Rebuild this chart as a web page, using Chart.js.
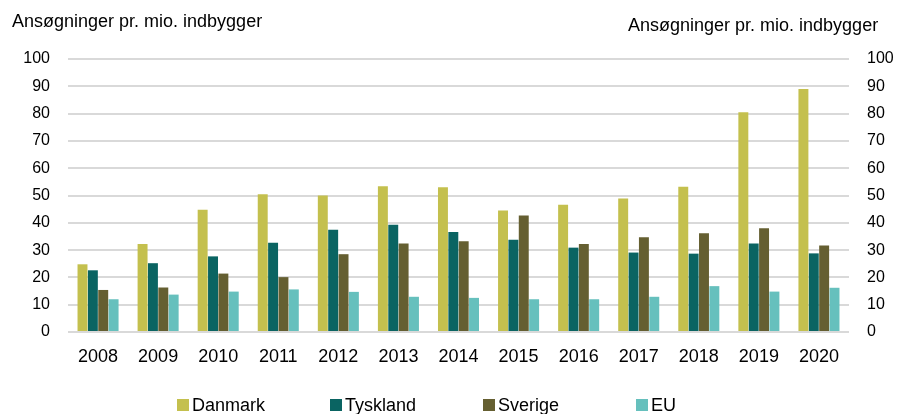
<!DOCTYPE html>
<html lang="da">
<head>
<meta charset="utf-8">
<script src="https://cdn.jsdelivr.net/npm/chart.js@4.4.1/dist/chart.umd.min.js"></script>
<style>
    html, body { margin: 0; padding: 0; background: #fff; overflow: hidden; }
    .wrap { position: relative; width: 897px; height: 414px; font-family: Arial, 'Liberation Sans', sans-serif; color: #000; }
    .axis-title { position: absolute; font-size: 18px; line-height: 18px; white-space: nowrap; }
    .legend { position: absolute; left: 177px; top: 396px; white-space: nowrap; font-size: 18px; line-height: 18px; }
    .legend__item { position: relative; display: inline-block; width: 148px; height: 20px; }
    .legend__box { position: absolute; left: 0; top: 3px; width: 12px; height: 12px; }
    .legend__text { position: absolute; left: 15px; top: 0; }
    canvas { position: absolute; left: 0; top: 0; }
</style>
</head>
<body>
<div class="wrap">
    <canvas id="chart" width="897" height="414"></canvas>
    <div class="axis-title" style="left:12px;top:12px;">Ansøgninger pr. mio. indbygger</div>
    <div class="axis-title" style="left:628px;top:16px;">Ansøgninger pr. mio. indbygger</div>
    <div class="legend" id="legend"></div>
</div>
<script>
const years = ['2008', '2009', '2010', '2011', '2012', '2013', '2014', '2015', '2016', '2017', '2018', '2019', '2020'];
const seriesNames = ['Danmark', 'Tyskland', 'Sverige', 'EU'];
const seriesColors = ['#C4C04E', '#0A6462', '#655F31', '#66C0BD'];

const danmark = [24.8, 32.2, 44.8, 50.5, 50.0, 53.4, 53.0, 44.5, 46.6, 48.9, 53.2, 80.5, 89.0];
const tyskland = [22.6, 25.2, 27.7, 32.7, 37.5, 39.3, 36.6, 33.8, 30.9, 29.1, 28.7, 32.4, 28.8];
const sverige = [15.4, 16.3, 21.4, 20.1, 28.5, 32.4, 33.2, 42.7, 32.2, 34.7, 36.2, 38.0, 31.7];
const eu = [12.0, 13.7, 14.8, 15.6, 14.7, 12.9, 12.5, 12.0, 12.0, 12.9, 16.8, 14.8, 16.2];

const yTicks = [0, 10, 20, 30, 40, 50, 60, 70, 80, 90, 100];

const FONT = "Arial, 'Liberation Sans', sans-serif";
const GRID = '#d9d9d9';

const seriesValues = [danmark, tyskland, sverige, eu];

// html legend, fixed width items like the original
const legendEl = document.getElementById('legend');
legendEl.innerHTML = seriesNames.map((name, i) => `
    <span class="legend__item">
        <span class="legend__box" style="background:${seriesColors[i]}"></span>
        <span class="legend__text">${name}</span>
    </span>`).join('');

const ctx = document.getElementById('chart').getContext('2d');

new Chart(ctx, {
    type: 'bar',
    data: {
        labels: years,
        datasets: seriesNames.map((name, i) => ({
            label: name,
            data: seriesValues[i],
            backgroundColor: seriesColors[i],
            borderWidth: 0,
            categoryPercentage: 0.69,
            barPercentage: 0.96,
            yAxisID: 'y',
        })),
    },
    options: {
        responsive: false,
        animation: false,
        layout: { padding: { top: 59, left: 0, right: 0, bottom: 0 } },
        plugins: {
            legend: { display: false },
            tooltip: { enabled: false },
        },
        scales: {
            x: {
                grid: { display: false },
                border: { display: false },
                ticks: { color: '#000', font: { family: FONT, size: 18 }, padding: 6 },
                afterFit: (axis) => { axis.height = 82; },
            },
            y: {
                position: 'left',
                min: 0,
                max: 100,
                afterBuildTicks: (axis) => { axis.ticks = yTicks.map((v) => ({ value: v })); },
                grid: { color: GRID, lineWidth: 2, drawTicks: false },
                border: { display: false },
                ticks: { color: '#000', font: { family: FONT, size: 16 }, padding: 18 },
                afterFit: (axis) => { axis.width = 68; },
            },
            y2: {
                position: 'right',
                min: 0,
                max: 100,
                afterBuildTicks: (axis) => { axis.ticks = yTicks.map((v) => ({ value: v })); },
                grid: { display: false, drawTicks: false },
                border: { display: false },
                ticks: { color: '#000', font: { family: FONT, size: 16 }, padding: 18 },
                afterFit: (axis) => { axis.width = 48; },
            },
        },
    },
});
</script>
</body>
</html>
